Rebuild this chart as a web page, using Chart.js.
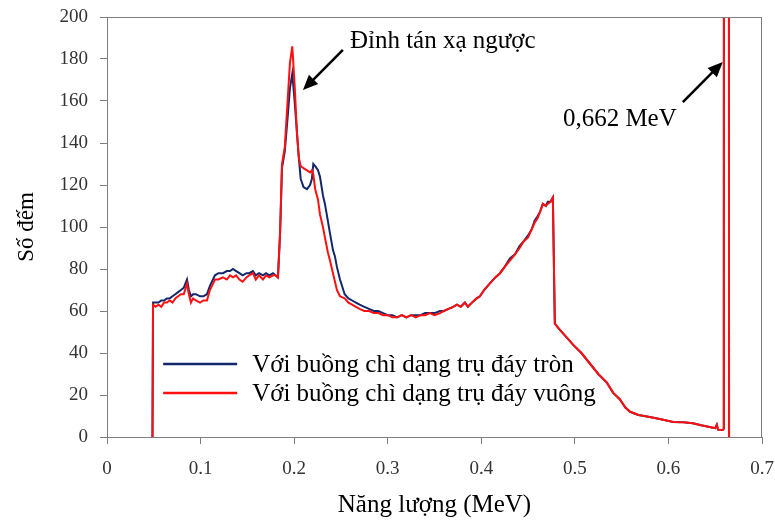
<!DOCTYPE html>
<html lang="vi">
<head>
<meta charset="UTF-8">
<title>Phổ năng lượng</title>
<script src="https://cdn.jsdelivr.net/npm/chart.js"></script>
<style>
    body { margin: 0; background: #ffffff; }
    .chart-box { width: 775px; height: 525px; }
</style>
</head>
<body>
<div class="chart-box">
    <canvas id="spectrum" width="775" height="525"></canvas>
</div>
<script>
// Năng lượng (MeV) - dùng chung cho cả hai phổ
const energy = [
    0.0486, 0.0492, 0.052, 0.055, 0.058, 0.061, 0.064, 0.067, 0.070, 0.073,
    0.076, 0.079, 0.082, 0.0855, 0.0875, 0.0897, 0.092, 0.095, 0.0994, 0.103,
    0.1068, 0.110, 0.1154, 0.119, 0.124, 0.128, 0.1315, 0.1346, 0.138, 0.1415,
    0.145, 0.149, 0.152, 0.156, 0.159, 0.1625, 0.1667, 0.170, 0.1735, 0.1774,
    0.180, 0.1827, 0.185, 0.187, 0.190, 0.193, 0.1955, 0.198, 0.2005, 0.203,
    0.205, 0.207, 0.210, 0.2137, 0.217, 0.219, 0.2205, 0.2225, 0.2255, 0.2276,
    0.2308, 0.2329, 0.236, 0.2383, 0.2415, 0.2436, 0.2457, 0.249, 0.254, 0.258,
    0.262, 0.266, 0.270, 0.275, 0.280, 0.285, 0.290, 0.295, 0.300, 0.305,
    0.310, 0.315, 0.320, 0.325, 0.330, 0.335, 0.340, 0.345, 0.350, 0.3558,
    0.360, 0.365, 0.370, 0.374, 0.378, 0.3825, 0.3857, 0.390, 0.395, 0.3985,
    0.403, 0.409, 0.415, 0.420, 0.425, 0.4306, 0.436, 0.441, 0.445, 0.450,
    0.454, 0.457, 0.460, 0.4626, 0.4658, 0.469, 0.471, 0.474, 0.4765, 0.4786,
    0.484, 0.490, 0.498, 0.507, 0.516, 0.525, 0.534, 0.541, 0.548, 0.554,
    0.559, 0.568, 0.580, 0.592, 0.605, 0.616, 0.626, 0.635, 0.644, 0.650,
    0.6517, 0.653, 0.658, 0.6592, 0.6596, 0.6642, 0.6648
];

// Số đếm - buồng chì dạng trụ đáy tròn
const countsRound = [
    0, 64, 64, 64, 65, 65, 66, 66, 67, 68,
    69, 70, 71, 75, 70, 67, 68, 68, 67, 67,
    68, 72, 77, 78, 78, 79, 79, 80, 79, 78,
    77, 78, 78, 79, 77, 78, 77, 78, 77, 78,
    77, 76, 97, 128, 136, 152, 166, 173, 160, 145,
    133, 123, 119, 118, 120, 123, 130, 129, 127, 124,
    115, 111, 103, 97, 89, 86, 81, 75, 68, 66,
    65, 64, 63, 62, 61, 60, 60, 59, 58, 58,
    57, 58, 57, 58, 58, 58, 59, 59, 59, 60,
    60, 61, 62, 63, 62, 64, 62, 64, 66, 67,
    70, 73, 76, 78, 81, 85, 87, 91, 93, 96,
    99, 103, 105, 107, 111, 110, 112, 112, 114, 54,
    51, 48, 44, 40, 35, 30, 26, 21, 18, 14,
    12, 10.5, 9.5, 8.5, 7.2, 7, 6.5, 5.6, 4.8, 4.2,
    5.8, 3.5, 3.3, 4, 900, 900, 0
];

// Số đếm - buồng chì dạng trụ đáy vuông
const countsSquare = [
    0, 63, 62, 63, 62, 64, 64, 65, 64, 66,
    67, 68, 68, 73, 68, 64, 66, 65, 64, 65,
    65, 70, 75, 75, 76, 75, 77, 76, 77, 75,
    74, 76, 77, 78, 75, 77, 75, 77, 76, 77,
    77, 76, 98, 130, 138, 160, 178, 186, 168, 145,
    133, 129, 128, 127, 126, 127, 125, 118, 113, 106,
    100, 95, 88, 84, 78, 74, 70, 67, 66, 64,
    63, 62, 61, 60, 60, 59, 59, 58, 58, 57,
    57, 58, 57, 58, 57, 58, 58, 59, 58, 59,
    60, 61, 62, 63, 62, 64, 62, 64, 66, 67,
    70, 73, 76, 78, 81, 84, 87, 90, 93, 95,
    99, 102, 104, 107, 111, 110, 111, 112, 114, 54,
    51, 48, 44, 40, 35, 30, 26, 21, 18, 14,
    12, 10.5, 9.5, 8.5, 7.2, 7, 6.5, 5.6, 4.8, 4.2,
    5.8, 3.5, 3.3, 4, 900, 900, 0
];

const seriesLabels = ['Với buồng chì dạng trụ đáy tròn', 'Với buồng chì dạng trụ đáy vuông'];
const xTicks = [0, 0.1, 0.2, 0.3, 0.4, 0.5, 0.6, 0.7];
const yTicks = [0, 20, 40, 60, 80, 100, 120, 140, 160, 180, 200];

const BLUE = '#13286b';
const RED = '#ff1010';
const SERIF = "'Liberation Serif', 'Times New Roman', serif";

// Chú thích mũi tên (toạ độ theo dữ liệu)
const notes = [
    { text: 'Đỉnh tán xạ ngược', x: 0.2596, y: 185.2, from: [0.2521, 184.3], to: [0.2094, 165.2] },
    { text: '0,662 MeV', x: 0.4872, y: 148.1, from: [0.6154, 159.5], to: [0.6581, 178.6] }
];

const toPoints = ys => energy.map((e, i) => ({ x: e, y: ys[i] }));

// bỏ phần đệm tự động do nhãn trục tràn ra ngoài
const noOverflow = s => {
    s.paddingTop = 0; s.paddingBottom = 0;
    s.paddingLeft = 0; s.paddingRight = 0;
};

const framePlugin = {
    id: 'frame',
    afterDatasetsDraw(chart) {
        const { ctx, chartArea: a, scales: { x, y } } = chart;
        ctx.save();
        ctx.strokeStyle = '#7f7f7f';
        ctx.lineWidth = 1;
        ctx.strokeRect(a.left + 0.5, a.top + 0.5, a.right - a.left - 1, a.bottom - a.top);

        // mũi tên và chữ
        ctx.fillStyle = '#000';
        ctx.strokeStyle = '#000';
        ctx.font = '25px ' + SERIF;
        ctx.textBaseline = 'alphabetic';
        ctx.textAlign = 'left';
        notes.forEach(n => {
            ctx.fillText(n.text, x.getPixelForValue(n.x), y.getPixelForValue(n.y));
            const x1 = x.getPixelForValue(n.from[0]), y1 = y.getPixelForValue(n.from[1]);
            const x2 = x.getPixelForValue(n.to[0]), y2 = y.getPixelForValue(n.to[1]);
            const ang = Math.atan2(y2 - y1, x2 - x1);
            const head = 15;
            ctx.lineWidth = 2.5;
            ctx.beginPath();
            ctx.moveTo(x1, y1);
            ctx.lineTo(x2 - Math.cos(ang) * head * 0.8, y2 - Math.sin(ang) * head * 0.8);
            ctx.stroke();
            ctx.beginPath();
            ctx.moveTo(x2, y2);
            ctx.lineTo(x2 - head * Math.cos(ang) + 6.5 * Math.sin(ang), y2 - head * Math.sin(ang) - 6.5 * Math.cos(ang));
            ctx.lineTo(x2 - head * Math.cos(ang) - 6.5 * Math.sin(ang), y2 - head * Math.sin(ang) + 6.5 * Math.cos(ang));
            ctx.closePath();
            ctx.fill();
        });

        // chú giải
        const lx = x.getPixelForValue(0.0600), ly = y.getPixelForValue(34.8);
        chart.data.datasets.forEach((ds, i) => {
            const yy = ly + i * 29;
            ctx.strokeStyle = ds.borderColor;
            ctx.lineWidth = 2.5;
            ctx.beginPath();
            ctx.moveTo(lx, yy);
            ctx.lineTo(lx + 74, yy);
            ctx.stroke();
            ctx.fillStyle = '#000';
            ctx.fillText(ds.label, lx + 89, yy + 8);
        });
        ctx.restore();
    }
};

const ctx = document.getElementById('spectrum').getContext('2d');
new Chart(ctx, {
    type: 'line',
    data: {
        datasets: [
            { label: seriesLabels[0], data: toPoints(countsRound), borderColor: BLUE, borderWidth: 2, order: 1 },
            { label: seriesLabels[1], data: toPoints(countsSquare), borderColor: RED, borderWidth: 2, order: 0 }
        ]
    },
    options: {
        responsive: false,
        animation: false,
        layout: { padding: { top: 17, right: 13, left: 0, bottom: 0 } },
        elements: { point: { radius: 0 }, line: { tension: 0 } },
        plugins: { legend: { display: false }, tooltip: { enabled: false } },
        scales: {
            x: {
                type: 'linear',
                min: 0,
                max: 0.7,
                afterFit: s => { s.height = 88; noOverflow(s); },
                afterBuildTicks: s => { s.ticks = xTicks.map(v => ({ value: v })); },
                ticks: {
                    color: '#333',
                    padding: 14,
                    font: { family: SERIF, size: 19 },
                    callback: v => (v === 0 ? '0' : v.toFixed(1))
                },
                grid: { drawOnChartArea: false, drawTicks: true, tickLength: 7, color: '#7f7f7f' },
                border: { display: true, color: '#7f7f7f' },
                title: {
                    display: true,
                    text: 'Năng lượng (MeV)',
                    color: '#000',
                    font: { family: SERIF, size: 25 },
                    padding: { top: 0, bottom: 5 }
                }
            },
            y: {
                min: 0,
                max: 200,
                afterFit: s => { s.width = 107; noOverflow(s); },
                afterBuildTicks: s => { s.ticks = yTicks.map(v => ({ value: v })); },
                ticks: {
                    color: '#333',
                    padding: 12,
                    font: { family: SERIF, size: 19 }
                },
                grid: { drawOnChartArea: false, drawTicks: true, tickLength: 7, color: '#7f7f7f' },
                border: { display: true, color: '#7f7f7f' },
                title: {
                    display: true,
                    text: 'Số đếm',
                    color: '#000',
                    font: { family: SERIF, size: 23 },
                    padding: { top: 13, bottom: 0 }
                }
            }
        }
    },
    plugins: [framePlugin]
});
</script>
</body>
</html>
